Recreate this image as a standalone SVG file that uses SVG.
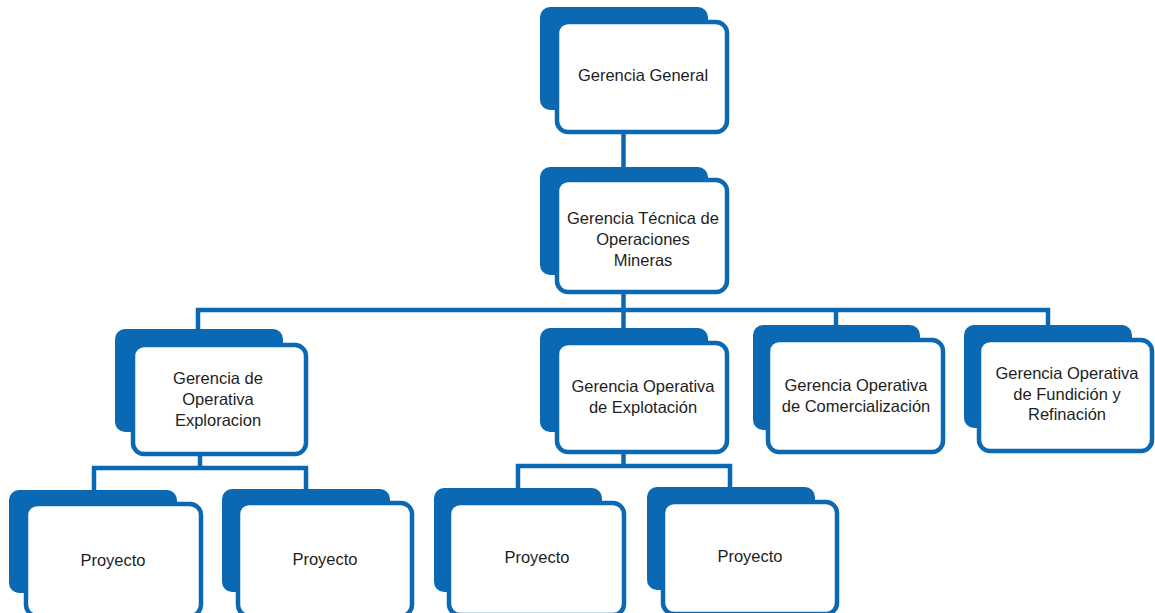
<svg xmlns="http://www.w3.org/2000/svg" width="1155" height="613" viewBox="0 0 1155 613">
<style>
.bg{fill:#ffffff}
.back{fill:#0b69b4}
.front{fill:#ffffff;stroke:#0b69b4;stroke-width:4.5}
.conn{fill:none;stroke:#0b69b4;stroke-width:4.5;stroke-linejoin:miter}
.t{font-family:"Liberation Sans",Arial,sans-serif;font-size:16.5px;fill:#1e1e1e;text-anchor:middle}
</style>
<rect class="bg" x="0" y="0" width="1155" height="613"/>
<g id="connectors">
<path class="conn" d="M623.5,133 V180"/>
<path class="conn" d="M623.5,293 V345"/>
<path class="conn" d="M198,330 V310 H1048 V327"/>
<path class="conn" d="M836,310 V327"/>
<path class="conn" d="M200,455 V468"/>
<path class="conn" d="M94,491 V468 H306 V490"/>
<path class="conn" d="M623.5,452 V466"/>
<path class="conn" d="M518,489 V466 H730 V488"/>
</g>
<g id="n-general">
<rect class="back" x="540" y="7" width="168" height="103" rx="10"/>
<rect class="front" x="557" y="22" width="170" height="110" rx="11"/>
<text class="t" x="643" y="81">Gerencia General</text>
</g>
<g id="n-tecnica">
<rect class="back" x="540" y="167" width="168" height="108" rx="10"/>
<rect class="front" x="557" y="180" width="170" height="112" rx="11"/>
<text class="t" x="643" y="224">Gerencia Técnica de</text>
<text class="t" x="643" y="245">Operaciones</text>
<text class="t" x="643" y="266">Mineras</text>
</g>
<g id="n-exploracion">
<rect class="back" x="115" y="329" width="168" height="103" rx="10"/>
<rect class="front" x="133" y="345" width="173" height="109" rx="11"/>
<text class="t" x="218" y="384">Gerencia de</text>
<text class="t" x="218" y="405">Operativa</text>
<text class="t" x="218" y="426">Exploracion</text>
</g>
<g id="n-explotacion">
<rect class="back" x="540" y="328" width="168" height="104" rx="10"/>
<rect class="front" x="557" y="343" width="170" height="109" rx="11"/>
<text class="t" x="643" y="392">Gerencia Operativa</text>
<text class="t" x="643" y="413">de Explotación</text>
</g>
<g id="n-comercializacion">
<rect class="back" x="753" y="325" width="167" height="105" rx="10"/>
<rect class="front" x="768" y="340" width="175" height="112" rx="11"/>
<text class="t" x="856" y="391">Gerencia Operativa</text>
<text class="t" x="856" y="412">de Comercialización</text>
</g>
<g id="n-fundicion">
<rect class="back" x="964" y="325" width="168" height="103" rx="10"/>
<rect class="front" x="979" y="340" width="173" height="111" rx="11"/>
<text class="t" x="1067" y="379">Gerencia Operativa</text>
<text class="t" x="1067" y="400">de Fundición y</text>
<text class="t" x="1067" y="420">Refinación</text>
</g>
<g id="n-proy1">
<rect class="back" x="9" y="490" width="168" height="103" rx="10"/>
<rect class="front" x="26" y="504" width="175" height="112" rx="11"/>
<text class="t" x="113" y="566">Proyecto</text>
</g>
<g id="n-proy2">
<rect class="back" x="222" y="489" width="168" height="103" rx="10"/>
<rect class="front" x="238" y="503" width="174" height="113" rx="11"/>
<text class="t" x="325" y="565">Proyecto</text>
</g>
<g id="n-proy3">
<rect class="back" x="434" y="488" width="168" height="104" rx="10"/>
<rect class="front" x="449" y="503" width="175" height="112" rx="11"/>
<text class="t" x="537" y="563">Proyecto</text>
</g>
<g id="n-proy4">
<rect class="back" x="647" y="487" width="168" height="103" rx="10"/>
<rect class="front" x="663" y="502" width="174" height="112" rx="11"/>
<text class="t" x="750" y="562">Proyecto</text>
</g>
</svg>
